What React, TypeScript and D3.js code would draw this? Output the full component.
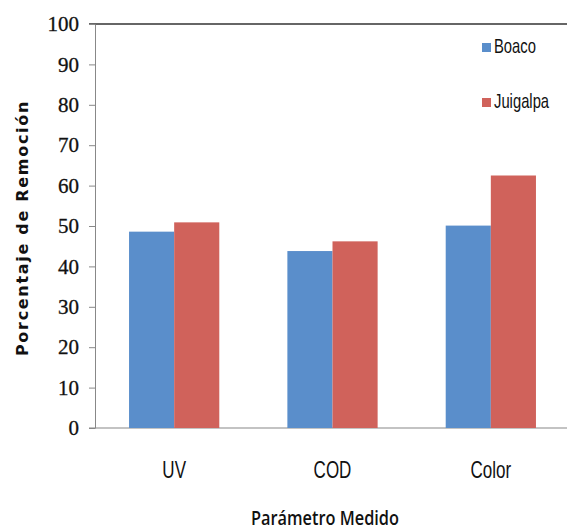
import { useEffect, useRef } from 'react';
import * as d3 from 'd3';

const categories = ['UV', 'COD', 'Color'];
const seriesNames = ['Boaco', 'Juigalpa'];
const boaco = [48.6, 43.8, 50.1];
const juigalpa = [50.9, 46.2, 62.5];
const yTicks = [0, 10, 20, 30, 40, 50, 60, 70, 80, 90, 100];
const colors = ['#5A8ECB', '#D0625B'];

export default function App() {
  const svgRef = useRef<SVGSVGElement>(null);

  useEffect(() => {
    if (!svgRef.current) return;
    d3.select(svgRef.current).selectAll('*').remove();

    const width = 567;
    const height = 531;
    const left = 95;
    const top = 24;
    const bottom = 428;

    const svg = d3.select(svgRef.current).attr('width', width).attr('height', height);

    const x0 = d3.scaleBand<string>().domain(categories).range([left, 570]).paddingInner(0.43).paddingOuter(0.215);
    const x1 = d3.scaleBand<string>().domain(seriesNames).range([0, x0.bandwidth()]);
    const y = d3.scaleLinear().domain([0, 100]).range([bottom, top]);

    // top frame line
    svg.append('line')
      .attr('x1', 89).attr('x2', width).attr('y1', y(100)).attr('y2', y(100))
      .attr('stroke', '#333').attr('stroke-width', 1.5);

    // y axis
    const yAxis = svg.append('g')
      .attr('transform', `translate(${left},0)`)
      .call(d3.axisLeft(y).tickValues(yTicks).tickSize(6).tickPadding(10).tickSizeOuter(0));
    yAxis.select('.domain').attr('stroke', '#888');
    yAxis.selectAll('.tick line').attr('stroke', '#888');
    yAxis.selectAll('.tick text')
      .attr('font-family', '"Liberation Serif", serif')
      .attr('font-size', 21)
      .attr('fill', '#111')
      .attr('stroke', '#111')
      .attr('stroke-width', 0.3);

    // x axis baseline
    svg.append('line')
      .attr('x1', 89).attr('x2', width).attr('y1', bottom).attr('y2', bottom)
      .attr('stroke', '#888').attr('stroke-width', 1.2);

    const data = categories.map((c, i) => ({ cat: c, vals: [boaco[i], juigalpa[i]] }));

    const groups = svg.append('g').selectAll('g')
      .data(data)
      .join('g')
      .attr('transform', (d) => `translate(${x0(d.cat)},0)`);

    groups.selectAll('rect')
      .data((d) => d.vals.map((v, j) => ({ name: seriesNames[j], v, j })))
      .join('rect')
      .attr('x', (d) => x1(d.name)!)
      .attr('width', x1.bandwidth())
      .attr('y', (d) => y(d.v))
      .attr('height', (d) => bottom - y(d.v))
      .attr('fill', (d) => colors[d.j]);

    // x labels
    svg.append('g').selectAll('text')
      .data(categories)
      .join('text')
      .attr('transform', (d) => `translate(${x0(d)! + x0.bandwidth() / 2},478) scale(0.74,1)`)
      .attr('text-anchor', 'middle')
      .attr('font-family', '"Liberation Sans", sans-serif')
      .attr('font-size', 23)
      .attr('fill', '#111')
      .text((d) => d);

    // x title
    svg.append('text')
      .attr('transform', 'translate(325,525) scale(0.86,1)')
      .attr('text-anchor', 'middle')
      .attr('font-family', '"Open Sans", sans-serif')
      .attr('font-size', 19)
      .attr('font-weight', 600)
      .attr('fill', '#111')
      .text('Parámetro Medido');

    // y title
    svg.append('text')
      .attr('transform', 'translate(28,228) rotate(-90)')
      .attr('text-anchor', 'middle')
      .attr('font-family', '"DejaVu Sans", sans-serif')
      .attr('font-size', 16)
      .attr('font-weight', 'bold')
      .attr('letter-spacing', 1.7)
      .attr('fill', '#111')
      .text('Porcentaje de Remoción');

    // legend
    const legend = svg.append('g').selectAll('g')
      .data(seriesNames)
      .join('g')
      .attr('transform', (d, i) => `translate(482,${43 + i * 55})`);
    legend.append('rect')
      .attr('width', 9).attr('height', 9)
      .attr('fill', (d, i) => colors[i]);
    legend.append('text')
      .attr('transform', 'translate(12,10) scale(0.74,1)')
      .attr('font-family', '"Liberation Sans", sans-serif')
      .attr('font-size', 20)
      .attr('fill', '#111')
      .text((d) => d);
  }, []);

  return (
    <div style={{ position: 'absolute', left: 0, top: 0 }}>
      <svg ref={svgRef}></svg>
    </div>
  );
}
